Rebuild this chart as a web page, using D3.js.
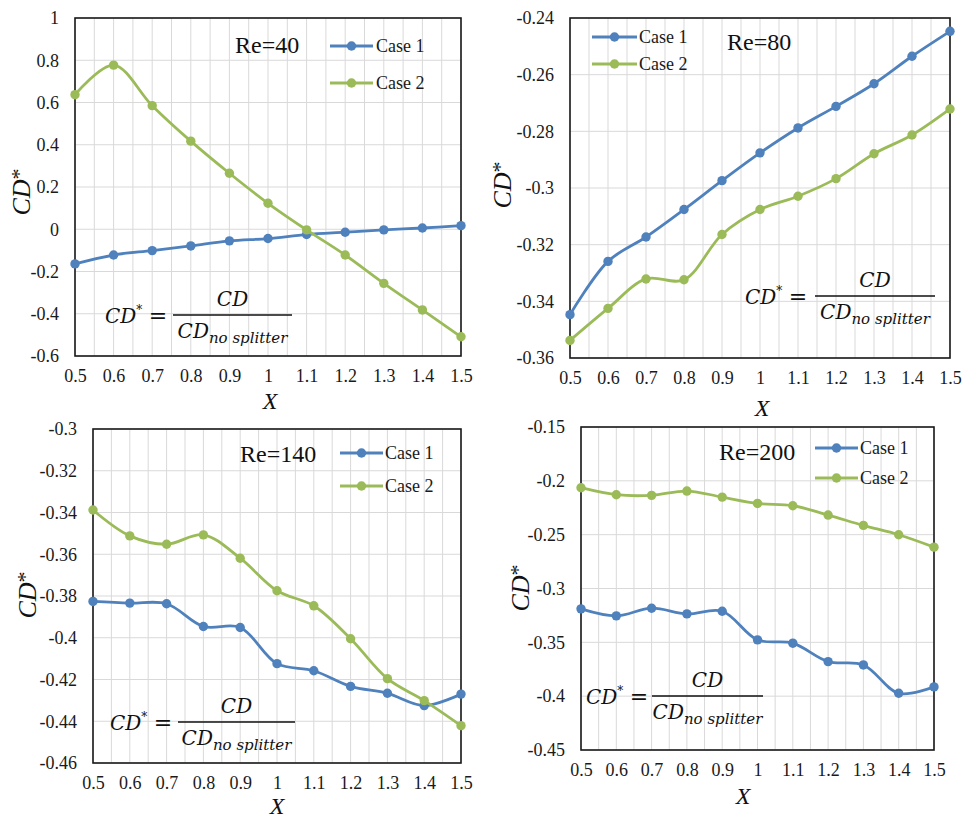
<!DOCTYPE html>
<html>
<head>
<meta charset="utf-8">
<script src="https://cdn.jsdelivr.net/npm/d3@7"></script>
<style>
  html, body { margin: 0; padding: 0; background: #fff; }
  svg { display: block; }
</style>
</head>
<body>
<svg id="chart" width="964" height="818"></svg>
<script>
// ---------------- DATA ----------------
const xValues = [0.5, 0.6, 0.7, 0.8, 0.9, 1.0, 1.1, 1.2, 1.3, 1.4, 1.5];
const xTickLabels = ["0.5", "0.6", "0.7", "0.8", "0.9", "1", "1.1", "1.2", "1.3", "1.4", "1.5"];
const seriesNames = ["Case 1", "Case 2"];

const re40Case1 = [-0.164, -0.122, -0.101, -0.079, -0.055, -0.044, -0.025, -0.014, -0.003, 0.006, 0.017];
const re40Case2 = [0.637, 0.777, 0.585, 0.417, 0.265, 0.123, -0.003, -0.122, -0.256, -0.382, -0.509];
const re40YTicks = [-0.6, -0.4, -0.2, 0, 0.2, 0.4, 0.6, 0.8, 1];
const re40YLabels = ["-0.6", "-0.4", "-0.2", "0", "0.2", "0.4", "0.6", "0.8", "1"];

const re80Case1 = [-0.3447, -0.3259, -0.3173, -0.3076, -0.2974, -0.2876, -0.2788, -0.2712, -0.2632, -0.2535, -0.2447];
const re80Case2 = [-0.3538, -0.3425, -0.3321, -0.3324, -0.3164, -0.3076, -0.3029, -0.2967, -0.2879, -0.2813, -0.2721];
const re80YTicks = [-0.36, -0.34, -0.32, -0.30, -0.28, -0.26, -0.24];
const re80YLabels = ["-0.36", "-0.34", "-0.32", "-0.3", "-0.28", "-0.26", "-0.24"];

const re140Case1 = [-0.3826, -0.3834, -0.3837, -0.3946, -0.3951, -0.4124, -0.4158, -0.4233, -0.4266, -0.4325, -0.4270];
const re140Case2 = [-0.3388, -0.3512, -0.3552, -0.3507, -0.3619, -0.3775, -0.3847, -0.4005, -0.4196, -0.4301, -0.4421];
const re140YTicks = [-0.46, -0.44, -0.42, -0.40, -0.38, -0.36, -0.34, -0.32, -0.30];
const re140YLabels = ["-0.46", "-0.44", "-0.42", "-0.4", "-0.38", "-0.36", "-0.34", "-0.32", "-0.3"];

const re200Case1 = [-0.3189, -0.3254, -0.3183, -0.3236, -0.3211, -0.3477, -0.3508, -0.3679, -0.3710, -0.3973, -0.3914];
const re200Case2 = [-0.2064, -0.2129, -0.2135, -0.2095, -0.2151, -0.2210, -0.2231, -0.2318, -0.2414, -0.2501, -0.2616];
const re200YTicks = [-0.45, -0.40, -0.35, -0.30, -0.25, -0.20, -0.15];
const re200YLabels = ["-0.45", "-0.4", "-0.35", "-0.3", "-0.25", "-0.2", "-0.15"];

const panelTitles = ["Re=40", "Re=80", "Re=140", "Re=200"];

// ---------------- STYLE / LAYOUT ----------------
const colors = ["#4f81bd", "#9bbb59"];
const serif = "'Liberation Serif', 'Times New Roman', serif";
const mathFont = "'DejaVu Serif', serif";

const panels = [
  { title: panelTitles[0], c1: re40Case1, c2: re40Case2, ticks: re40YTicks, labels: re40YLabels,
    box: { l: 75, r: 461, t: 18, b: 356 },
    titlePos: [235, 53], legend: { x1: 330, x2: 373, y1: 46, y2: 83, tx: 376 },
    formula: { sx: 105, x1: 173, x2: 292, y: 315 },
    yLab: [22, 192], xLab: [270, 400] },
  { title: panelTitles[1], c1: re80Case1, c2: re80Case2, ticks: re80YTicks, labels: re80YLabels,
    box: { l: 570, r: 950, t: 18, b: 358 },
    titlePos: [727, 50], legend: { x1: 592, x2: 637, y1: 37, y2: 64, tx: 639 },
    formula: { sx: 745, x1: 815, x2: 935, y: 296 },
    yLab: [503, 185], xLab: [762, 407] },
  { title: panelTitles[2], c1: re140Case1, c2: re140Case2, ticks: re140YTicks, labels: re140YLabels,
    box: { l: 93, r: 461, t: 429, b: 763 },
    titlePos: [240, 462], legend: { x1: 340, x2: 383, y1: 453, y2: 486, tx: 385 },
    formula: { sx: 110, x1: 178, x2: 295, y: 722 },
    yLab: [28, 595], xLab: [277, 805] },
  { title: panelTitles[3], c1: re200Case1, c2: re200Case2, ticks: re200YTicks, labels: re200YLabels,
    box: { l: 581, r: 934, t: 427, b: 750 },
    titlePos: [719, 460], legend: { x1: 815, x2: 858, y1: 448, y2: 478, tx: 860 },
    formula: { sx: 586, x1: 652, x2: 763, y: 696 },
    yLab: [521, 588], xLab: [743, 795] }
];

const svg = d3.select("#chart");
svg.append("rect").attr("width", 964).attr("height", 818).attr("fill", "#fff");

panels.forEach(p => {
  const g = svg.append("g");
  const b = p.box;
  const x = d3.scaleLinear().domain([0.5, 1.5]).range([b.l, b.r]);
  const y = d3.scaleLinear().domain([p.ticks[0], p.ticks[p.ticks.length - 1]]).range([b.b, b.t]);

  // vertical gridlines every 0.05
  const vGrid = d3.range(0, 21).map(i => 0.5 + i * 0.05);
  g.append("g").selectAll("line").data(vGrid).join("line")
    .attr("x1", d => x(d)).attr("x2", d => x(d))
    .attr("y1", b.t).attr("y2", b.b)
    .attr("stroke", "#d9d9d9").attr("stroke-width", 1);
  // horizontal gridlines at ticks
  g.append("g").selectAll("line").data(p.ticks).join("line")
    .attr("x1", b.l).attr("x2", b.r)
    .attr("y1", d => y(d)).attr("y2", d => y(d))
    .attr("stroke", "#d9d9d9").attr("stroke-width", 1);

  // frame
  g.append("rect").attr("x", b.l).attr("y", b.t)
    .attr("width", b.r - b.l).attr("height", b.b - b.t)
    .attr("fill", "none").attr("stroke", "#1a1a1a").attr("stroke-width", 1.6);

  // axes via d3 axis generators (tick marks hidden, labels kept)
  const xAxis = d3.axisBottom(x).tickValues(xValues)
    .tickFormat((d, i) => xTickLabels[i]).tickSize(0).tickPadding(0);
  const xa = g.append("g").attr("transform", `translate(0,${b.b})`).call(xAxis);
  xa.attr("font-family", serif).attr("font-size", 18);
  xa.select(".domain").remove();
  xa.selectAll("text").attr("font-family", serif).attr("font-size", 18)
    .attr("fill", "#1a1a1a").attr("dy", null).attr("y", 26);

  const yAxis = d3.axisLeft(y).tickValues(p.ticks)
    .tickFormat((d, i) => p.labels[i]).tickSize(0).tickPadding(16);
  const ya = g.append("g").attr("transform", `translate(${b.l},0)`).call(yAxis);
  ya.attr("font-family", serif).attr("font-size", 18);
  ya.select(".domain").remove();
  ya.selectAll("text").attr("font-family", serif).attr("font-size", 18)
    .attr("fill", "#1a1a1a").attr("dy", "0.32em");

  // series
  const line = d3.line().x((d, i) => x(xValues[i])).y(d => y(d))
    .curve(d3.curveCatmullRom.alpha(0.5));
  [p.c1, p.c2].forEach((vals, k) => {
    g.append("path").datum(vals).attr("d", line)
      .attr("fill", "none").attr("stroke", colors[k]).attr("stroke-width", 2.8);
    g.append("g").selectAll("circle").data(vals).join("circle")
      .attr("cx", (d, i) => x(xValues[i])).attr("cy", d => y(d)).attr("r", 4.7)
      .attr("fill", colors[k]);
  });

  // title
  g.append("text").attr("x", p.titlePos[0]).attr("y", p.titlePos[1])
    .attr("font-family", serif).attr("font-size", 24).attr("fill", "#111")
    .text(p.title);

  // legend
  const L = p.legend;
  [L.y1, L.y2].forEach((ly, k) => {
    g.append("line").attr("x1", L.x1).attr("x2", L.x2).attr("y1", ly).attr("y2", ly)
      .attr("stroke", colors[k]).attr("stroke-width", 2.8);
    g.append("circle").attr("cx", (L.x1 + L.x2) / 2).attr("cy", ly).attr("r", 4.7)
      .attr("fill", colors[k]);
    g.append("text").attr("x", L.tx).attr("y", ly + 6)
      .attr("font-family", serif).attr("font-size", 18).attr("fill", "#1a1a1a")
      .text(seriesNames[k]);
  });

  // formula CD* = CD / CD_no splitter
  const F = p.formula;
  const lhs = g.append("text").attr("x", F.sx).attr("y", F.y + 8)
    .attr("font-family", mathFont).attr("font-style", "italic")
    .attr("font-size", 20).attr("fill", "#111");
  lhs.append("tspan").text("CD");
  lhs.append("tspan").attr("font-size", 12).attr("dy", -9).attr("font-style", "normal").text("*");
  g.append("text").attr("x", F.sx + 53).attr("y", F.y + 8)
    .attr("text-anchor", "middle").attr("font-family", mathFont)
    .attr("font-size", 22).attr("fill", "#111").text("=");
  g.append("line").attr("x1", F.x1).attr("x2", F.x2).attr("y1", F.y).attr("y2", F.y)
    .attr("stroke", "#111").attr("stroke-width", 1.4);
  g.append("text").attr("x", (F.x1 + F.x2) / 2).attr("y", F.y - 9)
    .attr("text-anchor", "middle").attr("font-family", mathFont).attr("font-style", "italic")
    .attr("font-size", 20).attr("fill", "#111").text("CD");
  const den = g.append("text").attr("x", (F.x1 + F.x2) / 2).attr("y", F.y + 23)
    .attr("text-anchor", "middle").attr("font-family", mathFont).attr("font-style", "italic")
    .attr("font-size", 20).attr("fill", "#111");
  den.append("tspan").text("CD");
  den.append("tspan").attr("font-size", 15).attr("dy", 5).text("no splitter");

  // axis titles
  const yl = g.append("text")
    .attr("transform", `translate(${p.yLab[0] + 8},${p.yLab[1]}) rotate(-90)`)
    .attr("text-anchor", "middle").attr("font-family", serif)
    .attr("font-size", 26).attr("fill", "#111");
  yl.append("tspan").attr("font-style", "italic").text("CD");
  yl.append("tspan").attr("font-size", 22).attr("dy", -4).text("*");
  g.append("text").attr("x", p.xLab[0]).attr("y", p.xLab[1] + 9)
    .attr("text-anchor", "middle").attr("font-family", serif).attr("font-style", "italic")
    .attr("font-size", 24).attr("fill", "#111").text("X");
});
</script>
</body>
</html>
